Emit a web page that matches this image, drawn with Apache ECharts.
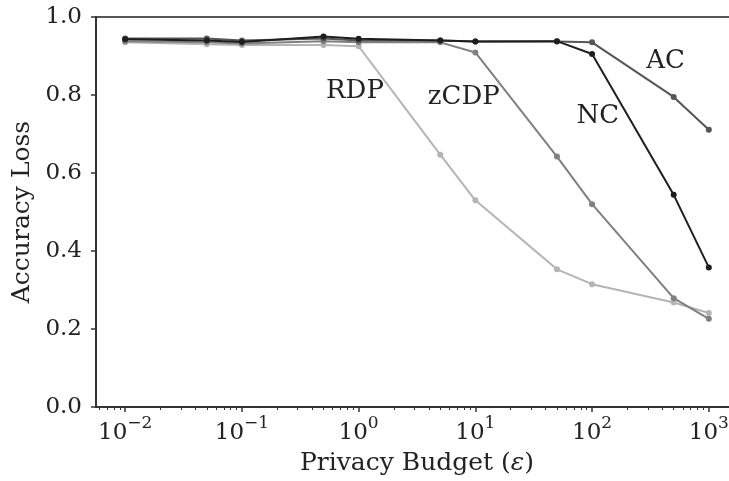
<!DOCTYPE html>
<html>
<head>
<meta charset="utf-8">
<script src="https://cdn.jsdelivr.net/npm/echarts@6/dist/echarts.min.js"></script>
<style>
  html, body { margin: 0; padding: 0; background: #fff; width: 729px; height: 481px; overflow: hidden; }
  #chart { width: 740px; height: 481px; }
</style>
</head>
<body>
<div id="chart"></div>
<script>
// Privacy budgets (epsilon) shared by every mechanism
const epsilon = [0.01, 0.05, 0.1, 0.5, 1, 5, 10, 50, 100, 500, 1000];

// Accuracy loss per mechanism
const lossAC   = [0.945, 0.945, 0.940, 0.945, 0.940, 0.940, 0.937, 0.937, 0.935, 0.795, 0.711];
const lossNC   = [0.943, 0.940, 0.936, 0.950, 0.944, 0.940, 0.937, 0.938, 0.905, 0.544, 0.358];
const lossZCDP = [0.938, 0.935, 0.932, 0.938, 0.935, 0.935, 0.909, 0.642, 0.520, 0.279, 0.226];
const lossRDP  = [0.935, 0.930, 0.928, 0.928, 0.925, 0.647, 0.530, 0.353, 0.315, 0.268, 0.241];

// Decade exponents labelled on the x axis, and y tick values
const xDecades = [-2, -1, 0, 1, 2, 3];
const yTicks = [0.0, 0.2, 0.4, 0.6, 0.8, 1.0];

// Where each curve's name is written: [epsilon, loss]
const nameSpots = {
  AC:   [427, 0.886],
  NC:   [112, 0.746],
  zCDP: [7.96, 0.794],
  RDP:  [0.93, 0.810]
};

const FONT = 'DejaVu Serif';
const MINUS = '\u2212';

// minor log ticks: 2..9 times each decade, inside the visible range
const X_MIN = -2.25, X_MAX = 3.25;
const minorTicks = [];
for (let d = -3; d <= 3; d++) {
  for (let k = 2; k <= 9; k++) {
    const v = Math.log10(k) + d;
    if (v > X_MIN && v < X_MAX) minorTicks.push(v);
  }
}

function toPoints(values) {
  return values.map((v, i) => [Math.log10(epsilon[i]), v]);
}

function makeSeries(name, values, color, z) {
  const spot = nameSpots[name];
  return {
    name: name,
    type: 'line',
    data: toPoints(values),
    symbol: 'circle',
    symbolSize: 6,
    z: z,
    lineStyle: { color: color, width: 2 },
    itemStyle: { color: color },
    emphasis: { disabled: true },
    markPoint: {
      silent: true,
      symbol: 'rect',
      symbolSize: [1, 1],
      itemStyle: { color: 'rgba(0,0,0,0)' },
      label: {
        show: true,
        position: 'inside',
        formatter: name,
        fontFamily: FONT,
        fontSize: 26,
        color: '#222'
      },
      data: [{ coord: [Math.log10(spot[0]), spot[1]] }]
    }
  };
}

const chart = echarts.init(document.getElementById('chart'), null, { renderer: 'canvas' });

chart.setOption({
  animation: false,
  backgroundColor: '#fff',
  textStyle: { fontFamily: FONT },
  grid: {
    left: 96, top: 17, right: 2, bottom: 70,
    show: true,
    borderColor: '#555',
    borderWidth: 2,
    backgroundColor: 'transparent'
  },
  xAxis: [
    {
      type: 'value',
      min: X_MIN,
      max: X_MAX,
      name: '{n|Privacy Budget (}{e|\u03b5}{n|)}',
      nameLocation: 'middle',
      nameGap: 44,
      nameTextStyle: {
        fontFamily: FONT, fontSize: 25, color: '#222',
        rich: {
          n: { fontFamily: FONT, fontSize: 25, color: '#222' },
          e: { fontFamily: FONT, fontSize: 25, color: '#222', fontStyle: 'italic' }
        }
      },
      splitLine: { show: false },
      axisLine: { show: true, onZero: false, lineStyle: { color: '#333', width: 2 } },
      axisTick: {
        show: true,
        length: 5,
        inside: false,
        customValues: xDecades,
        lineStyle: { color: '#333', width: 1.5 }
      },
      axisLabel: {
        customValues: xDecades,
        margin: 8,
        formatter: function (v) {
          const e = Math.round(v);
          const s = String(e).replace('-', MINUS);
          return '{b|10}{s|' + s + '}';
        },
        rich: {
          b: { fontFamily: FONT, fontSize: 23, color: '#222', lineHeight: 30, verticalAlign: 'bottom' },
          s: { fontFamily: FONT, fontSize: 17, color: '#222', lineHeight: 30, verticalAlign: 'top' }
        }
      }
    },
    {
      type: 'value',
      min: X_MIN,
      max: X_MAX,
      position: 'bottom',
      splitLine: { show: false },
      axisLine: { show: false, onZero: false },
      axisLabel: { show: false },
      axisTick: {
        show: true,
        length: 3,
        customValues: minorTicks,
        lineStyle: { color: '#333', width: 1 }
      }
    }
  ],
  yAxis: {
    type: 'value',
    min: 0,
    max: 1,
    interval: 0.2,
    name: 'Accuracy Loss',
    nameLocation: 'middle',
    nameGap: 60,
    nameRotate: 90,
    nameTextStyle: { fontFamily: FONT, fontSize: 25, color: '#222' },
    splitLine: { show: false },
    axisLine: { show: true, onZero: false, lineStyle: { color: '#333', width: 2 } },
    axisTick: { show: true, length: 5, lineStyle: { color: '#333', width: 1.5 } },
    axisLabel: {
      margin: 14,
      fontFamily: FONT,
      fontSize: 23,
      color: '#222',
      customValues: yTicks,
      formatter: function (v) { return v.toFixed(1); }
    }
  },
  series: [
    makeSeries('RDP', lossRDP, '#b4b4b4', 2),
    makeSeries('zCDP', lossZCDP, '#808080', 3),
    makeSeries('AC', lossAC, '#555555', 4),
    makeSeries('NC', lossNC, '#1e1e1e', 5)
  ]
});
</script>
</body>
</html>
